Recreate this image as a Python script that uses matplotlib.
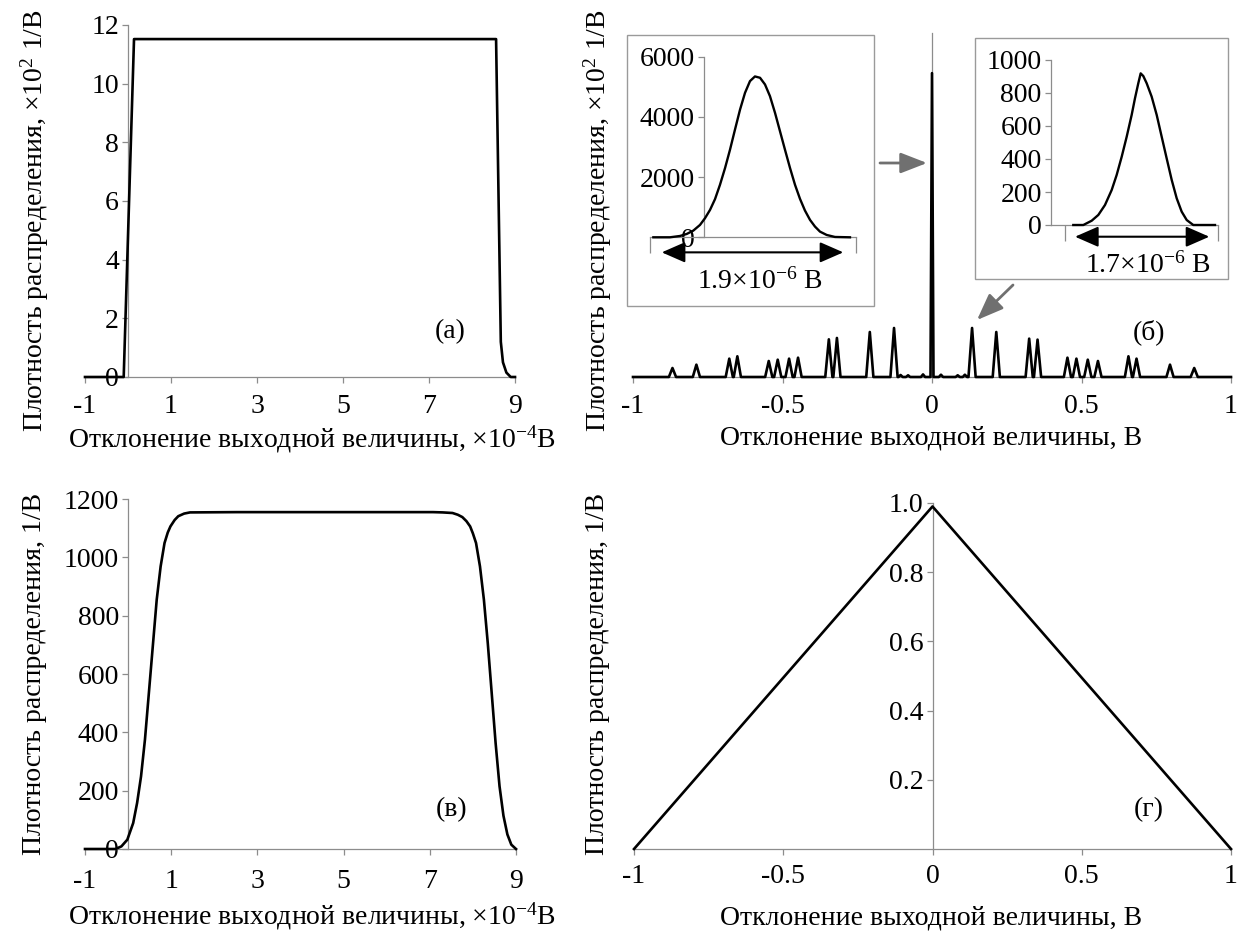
import matplotlib
matplotlib.use("Agg")
import matplotlib.pyplot as plt
from matplotlib.patches import Rectangle, FancyArrowPatch

plt.rcParams["font.family"] = ["Liberation Serif", "DejaVu Serif"]
plt.rcParams["mathtext.fontset"] = "custom"
plt.rcParams["mathtext.rm"] = "Liberation Serif"
plt.rcParams["mathtext.it"] = "Liberation Serif:italic"
plt.rcParams["mathtext.default"] = "rm"
plt.rcParams["axes.unicode_minus"] = False

# ---------------- data ----------------
# (а) density, x in 1e-4 V, y in 1e2 1/V
a_x = [-1.0, -0.10, 0.14, 8.56, 8.67, 8.72, 8.80, 8.90, 9.0]
a_y = [0.0, 0.0, 11.52, 11.52, 1.2, 0.5, 0.15, 0.0, 0.0]
a_xticks = [-1, 1, 3, 5, 7, 9]
a_yticks = [0, 2, 4, 6, 8, 10, 12]

# (б) peaks of the density, x in V
b_peak_pos = [-0.868, -0.788, -0.678, -0.651, -0.546, -0.516, -0.478, -0.448,
              -0.345, -0.318, -0.208, -0.127,
              0.134, 0.215, 0.325, 0.353, 0.453, 0.483, 0.521, 0.555,
              0.657, 0.684, 0.796, 0.877]
b_peak_h = [157, 215, 320, 361, 279, 302, 320, 337,
            657, 681, 785, 855,
            855, 785, 669, 652, 337, 320, 302, 279,
            361, 320, 215, 157]
b_small_pos = [-0.105, -0.080, -0.030, 0.030, 0.086, 0.110]
b_small_h = [35, 30, 45, 40, 30, 40]
b_center_pos = 0.0
b_center_h = 5300
b_xticks = [-1, -0.5, 0, 0.5, 1]
b_xticklabels = ["-1", "-0.5", "0", "0.5", "1"]

# (б) left inset: central peak, x in 1e-6 V
il_x = [-0.530, -0.356, -0.251, -0.181, -0.112, -0.042, 0.010, 0.063, 0.115,
        0.167, 0.220, 0.272, 0.324, 0.377, 0.429, 0.481, 0.533, 0.586, 0.638,
        0.690, 0.743, 0.795, 0.847, 0.900, 0.952, 1.004, 1.056, 1.109, 1.161,
        1.213, 1.283, 1.370, 1.527]
il_y = [0, 0, 44, 111, 222, 411, 633, 911, 1267, 1744, 2300, 2911, 3578, 4244,
        4800, 5189, 5344, 5300, 5078, 4689, 4133, 3522, 2911, 2300, 1744, 1278,
        889, 578, 356, 189, 78, 11, 0]
il_yticks = [0, 2000, 4000, 6000]
il_span = (-0.442, 1.457)

# (б) right inset: peak near 0.13 V, x in 1e-6 V
ir_x = [0.286, 0.413, 0.519, 0.603, 0.687, 0.772, 0.835, 0.899, 0.962, 1.025,
        1.067, 1.109, 1.139, 1.172, 1.215, 1.278, 1.342, 1.405, 1.468, 1.532,
        1.595, 1.658, 1.722, 1.805, 1.932, 2.080]
ir_y = [0, 0, 26, 61, 121, 212, 303, 414, 535, 667, 768, 859, 919, 903, 859,
        778, 667, 535, 404, 273, 162, 81, 30, 0, 0, 0]
ir_yticks = [0, 200, 400, 600, 800, 1000]
ir_span = (0.308, 2.008)

# (в) density, x in 1e-4 V, y in 1/V
c_x = [-1.0, -0.291, -0.155, -0.018, 0.118, 0.209, 0.300, 0.391, 0.482, 0.573,
       0.664, 0.755, 0.845, 0.920, 0.982, 1.080, 1.164, 1.300, 1.436, 2.527,
       7.073, 7.300, 7.527, 7.650, 7.755, 7.850, 7.936, 8.000, 8.073, 8.164,
       8.255, 8.345, 8.436, 8.527, 8.618, 8.709, 8.800, 8.891, 9.0]
c_y = [0, 0, 9, 32, 89, 158, 249, 375, 535, 695, 855, 969, 1049, 1085, 1106,
       1128, 1141, 1150, 1154, 1155, 1155, 1154, 1152, 1146, 1138, 1124, 1106,
       1082, 1049, 969, 855, 706, 535, 363, 215, 114, 50, 15, 0]
c_yticks = [0, 200, 400, 600, 800, 1000, 1200]

# (г) triangular density, x in V, y in 1/V
d_x = [-1.0, 0.0, 1.0]
d_y = [0.0, 0.99, 0.0]
d_yticks = [0.2, 0.4, 0.6, 0.8, 1.0]
d_yticklabels = ["0.2", "0.4", "0.6", "0.8", "1.0"]

# ---------------- layout helpers ----------------
W, H = 1237, 935
fig = plt.figure(figsize=(W / 100, H / 100), dpi=100)
fig.patch.set_facecolor("white")


def px_rect(l, t, r, b):
    return [l / W, 1 - b / H, (r - l) / W, (b - t) / H]


def fx(x):
    return x / W


def fy(y):
    return 1 - y / H


AXC = "#8c8c8c"
FS = 20
LW = 1.9


def style_axes(ax, xpad=8):
    for s in ("top", "right"):
        ax.spines[s].set_visible(False)
    ax.spines["left"].set_position(("data", 0))
    ax.spines["bottom"].set_position(("data", 0))
    for s in ("left", "bottom"):
        ax.spines[s].set_color(AXC)
        ax.spines[s].set_linewidth(0.9)
    ax.tick_params(direction="out", length=4.5, width=0.9, color=AXC,
                   labelsize=FS, pad=2)
    ax.tick_params(axis="x", pad=xpad)
    ax.patch.set_alpha(0)


def peak_trace(pos, hts, half, x0, x1):
    xs, ys = [x0], [0.0]
    for p, h, w in sorted(zip(pos, hts, half)):
        xs += [p - w, p, p + w]
        ys += [0.0, h, 0.0]
    xs.append(x1)
    ys.append(0.0)
    return xs, ys


# ---------------- (а) ----------------
ax_a = fig.add_axes(px_rect(85, 25, 515, 377))
style_axes(ax_a)
ax_a.plot(a_x, a_y, color="k", lw=LW, clip_on=False, zorder=3)
ax_a.set_xlim(-1, 9)
ax_a.set_ylim(0, 12)
ax_a.set_xticks(a_xticks)
ax_a.set_xticklabels([str(v) for v in a_xticks])
ax_a.set_yticks(a_yticks)
ax_a.set_yticklabels([str(v) for v in a_yticks])
fig.text(fx(450), fy(332), "(а)", ha="center", va="center", fontsize=FS)

# ---------------- (б) ----------------
ax_b = fig.add_axes(px_rect(633, 33, 1231, 377))
style_axes(ax_b)
pos = b_peak_pos + b_small_pos + [b_center_pos]
hts = b_peak_h + b_small_h + [b_center_h]
half = [0.012] * len(b_peak_pos) + [0.007] * len(b_small_pos) + [0.005]
bx, by = peak_trace(pos, hts, half, -1.0, 1.0)
ax_b.plot(bx, by, color="k", lw=LW, clip_on=False, zorder=3)
ax_b.set_xlim(-1, 1)
ax_b.set_ylim(0, 6000)
ax_b.set_yticks([])
ax_b.set_xticks(b_xticks)
ax_b.set_xticklabels(b_xticklabels)
fig.text(fx(1149), fy(332), "(б)", ha="center", va="center", fontsize=FS)

# left inset frame and axes
fig.add_artist(Rectangle((fx(627), fy(306)), (874 - 627) / W, (306 - 35) / H,
                         transform=fig.transFigure, fill=True, facecolor="white",
                         edgecolor="#9a9a9a", lw=1.0, zorder=1))
ax_il = fig.add_axes(px_rect(650, 56.7, 856, 237.3))
ax_il.set_zorder(5)
style_axes(ax_il)
ax_il.plot(il_x, il_y, color="k", lw=1.7, clip_on=False, zorder=3)
ax_il.set_xlim(-0.565, 1.59)
ax_il.set_ylim(0, 6000)
ax_il.set_yticks(il_yticks)
ax_il.set_yticklabels([str(v) for v in il_yticks])
ax_il.set_xticks([-0.565, 1.59])
ax_il.set_xticklabels(["", ""])
ax_il.tick_params(axis="x", length=11.5)
ax_il.annotate("", xy=(il_span[1], -500), xytext=(il_span[0], -500),
               arrowprops=dict(arrowstyle="<|-|>,head_length=0.8,head_width=0.35",
                               color="k", lw=1.5, mutation_scale=18,
                               shrinkA=0, shrinkB=0),
               annotation_clip=False)
fig.text(fx(760), fy(281), "1.9×10$^{-6}$ В", ha="center", va="center",
         fontsize=FS, zorder=6)

# right inset frame and axes
fig.add_artist(Rectangle((fx(975), fy(279.3)), (1227.7 - 975) / W,
                         (279.3 - 37.7) / H, transform=fig.transFigure,
                         fill=True, facecolor="white", edgecolor="#9a9a9a",
                         lw=1.0, zorder=1))
ax_ir = fig.add_axes(px_rect(1050.7, 60, 1218, 225))
ax_ir.set_zorder(5)
style_axes(ax_ir)
ax_ir.plot(ir_x, ir_y, color="k", lw=1.7, clip_on=False, zorder=3)
ax_ir.set_xlim(0, 2.118)
ax_ir.set_ylim(0, 1000)
ax_ir.set_yticks(ir_yticks)
ax_ir.set_yticklabels([str(v) for v in ir_yticks])
ax_ir.set_xticks([0.181, 2.118])
ax_ir.set_xticklabels(["", ""])
ax_ir.tick_params(axis="x", length=11.5)
ax_ir.annotate("", xy=(ir_span[1], -71), xytext=(ir_span[0], -71),
               arrowprops=dict(arrowstyle="<|-|>,head_length=0.8,head_width=0.35",
                               color="k", lw=1.5, mutation_scale=18,
                               shrinkA=0, shrinkB=0),
               annotation_clip=False)
fig.text(fx(1148), fy(265), "1.7×10$^{-6}$ В", ha="center", va="center",
         fontsize=FS, zorder=6)

# pointers from the insets to the peaks
for (x0, y0), (x1, y1) in [((880, 163), (927, 163)), ((1013, 285), (977, 320))]:
    fig.add_artist(FancyArrowPatch((fx(x0), fy(y0)), (fx(x1), fy(y1)),
                                   transform=fig.transFigure,
                                   arrowstyle="-|>,head_length=0.9,head_width=0.35",
                                   mutation_scale=18, color="#707070", lw=2.0,
                                   shrinkA=0, shrinkB=0, zorder=6))

# ---------------- (в) ----------------
ax_c = fig.add_axes(px_rect(85, 499, 516, 849))
style_axes(ax_c, xpad=10)
ax_c.plot(c_x, c_y, color="k", lw=LW, clip_on=False, zorder=3)
ax_c.set_xlim(-1, 9)
ax_c.set_ylim(0, 1200)
ax_c.set_xticks(a_xticks)
ax_c.set_xticklabels([str(v) for v in a_xticks])
ax_c.set_yticks(c_yticks)
ax_c.set_yticklabels([str(v) for v in c_yticks])
fig.text(fx(452), fy(810), "(в)", ha="center", va="center", fontsize=FS)

# ---------------- (г) ----------------
ax_d = fig.add_axes(px_rect(634, 503, 1231, 849))
style_axes(ax_d, xpad=6)
ax_d.plot(d_x, d_y, color="k", lw=LW, clip_on=False, zorder=3)
ax_d.set_xlim(-1, 1)
ax_d.set_ylim(0, 1.0)
ax_d.set_xticks(b_xticks)
ax_d.set_xticklabels(b_xticklabels)
ax_d.set_yticks(d_yticks)
ax_d.set_yticklabels(d_yticklabels)
fig.text(fx(1149), fy(810), "(г)", ha="center", va="center", fontsize=FS)

# ---------------- axis titles ----------------
ylab_top = "Плотность распределения, ×10$^{2}$ 1/В"
ylab_bot = "Плотность распределения, 1/В"
for x in (35, 598):
    fig.text(fx(x), fy(221), ylab_top, rotation=90, ha="center", va="center",
             fontsize=FS)
    fig.text(fx(x), fy(674), ylab_bot, rotation=90, ha="center", va="center",
             fontsize=FS)

xlab_e4 = "Отклонение выходной величины, ×10$^{-4}$В"
xlab_v = "Отклонение выходной величины, В"
fig.text(fx(312), fy(447), xlab_e4, ha="center", va="baseline", fontsize=FS)
fig.text(fx(931), fy(445), xlab_v, ha="center", va="baseline", fontsize=FS)
fig.text(fx(312), fy(924), xlab_e4, ha="center", va="baseline", fontsize=FS)
fig.text(fx(931), fy(924), xlab_v, ha="center", va="baseline", fontsize=FS)

fig.savefig("out.png", dpi=100, facecolor="white")
